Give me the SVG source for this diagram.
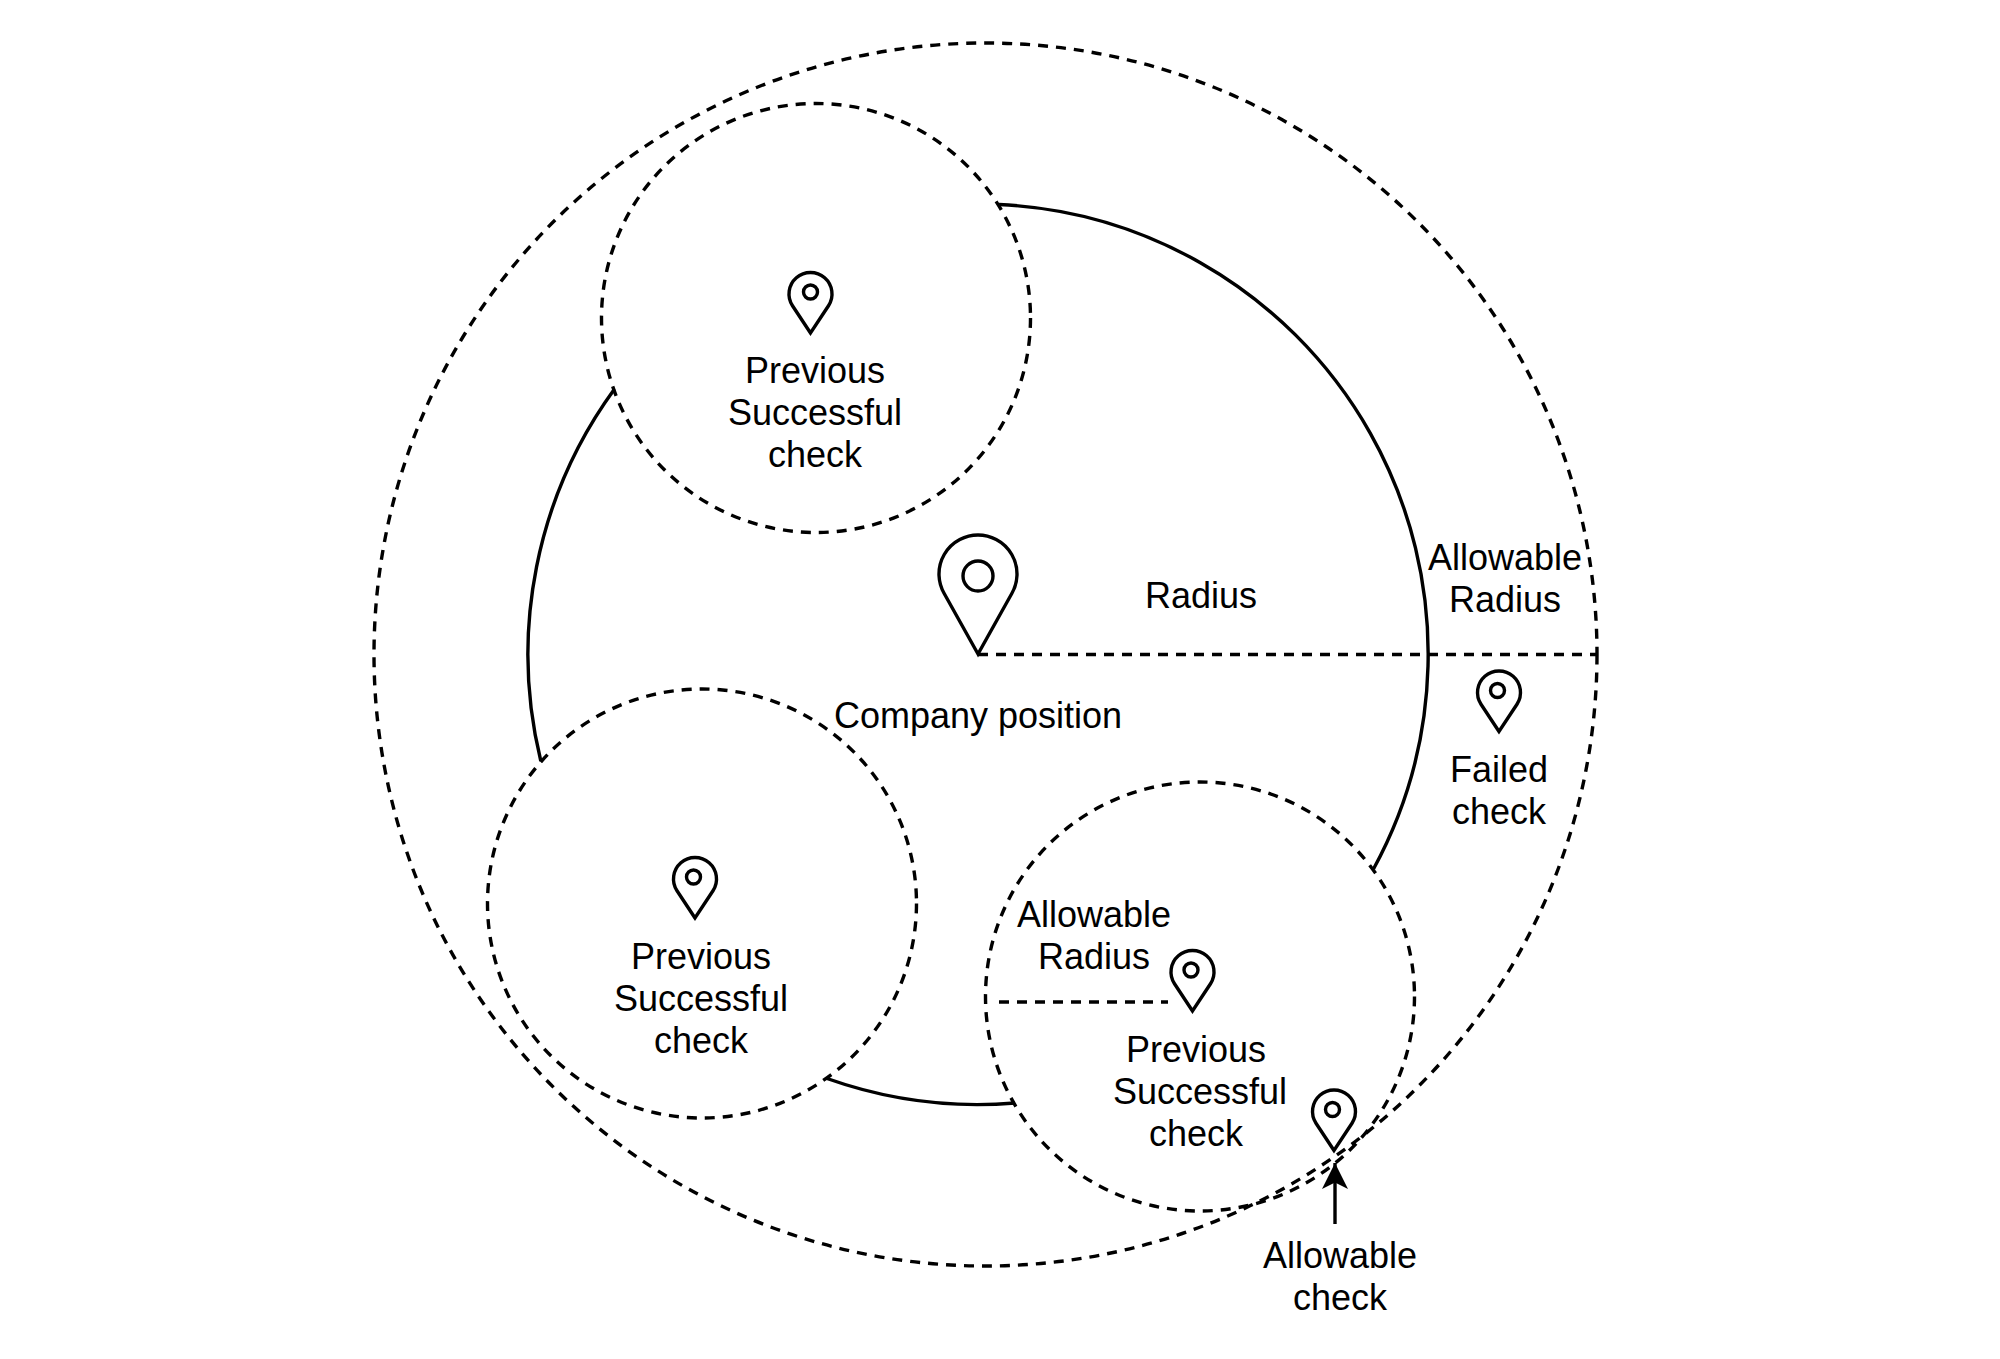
<svg xmlns="http://www.w3.org/2000/svg" width="2000" height="1359" viewBox="0 0 2000 1359">
<style>
text{font-family:"Liberation Sans",Arial,sans-serif;font-size:36px;fill:#000;text-anchor:middle}
.d{fill:none;stroke:#000;stroke-width:3.400;stroke-dasharray:10 8}
.s{fill:none;stroke:#000;stroke-width:3.400}
.p{fill:none;stroke:#000;stroke-width:3.400}
</style>
<defs>
<path id="drop" class="p" d="M0 0L-18 -27.200A21.500 21.500 0 1 1 18 -27.200Z"/>
<g id="pin"><use href="#drop"/><circle class="p" cx="-1.500" cy="-41" r="7"/></g>
<g id="pin-c"><use href="#drop"/><circle class="p" cx="0" cy="-41" r="7"/></g>
<marker id="ah" markerUnits="userSpaceOnUse" markerWidth="30" markerHeight="30" refX="26" refY="13" orient="auto"><path d="M0 0L26 13L0 26L6.500 13Z" fill="#000"/></marker>
</defs>
<rect width="2000" height="1359" fill="#fff"/>
<g id="connectors">
<path class="s" d="M999 204.500A450 450 0 0 1 1373.500 869"/>
<path class="s" d="M1015 1103A450 450 0 0 1 827 1078.500"/>
<path class="s" d="M540.800 761A450 450 0 0 1 614.500 389"/>
<path class="d" d="M978 654.500H1597"/>
<path class="d" d="M999 1002H1168"/>
<path class="s" d="M1335 1224V1163" marker-end="url(#ah)"/>
</g>
<g id="allowable-zone"><circle class="d" cx="985.500" cy="654.500" r="611.500"/></g>
<g id="check-top"><circle class="d" cx="816" cy="318" r="214.500"/><use href="#pin-c" x="810.500" y="333"/><text x="815" y="383">Previous</text><text x="815" y="425">Successful</text><text x="815" y="467">check</text></g>
<g id="check-left"><circle class="d" cx="702" cy="903.500" r="214.500"/><use href="#pin" x="695" y="918"/><text x="701" y="968.500">Previous</text><text x="701" y="1010.500">Successful</text><text x="701" y="1052.500">check</text></g>
<g id="check-right"><circle class="d" cx="1200" cy="996.500" r="214.500"/><use href="#pin" x="1192.500" y="1011"/><text x="1196" y="1061.500">Previous</text><text x="1200" y="1103.500">Successful</text><text x="1196" y="1145.500">check</text><text x="1094" y="926.500">Allowable</text><text x="1094" y="968.500">Radius</text></g>
<g id="company"><path class="p" d="M978 654L944.200 593.500A39 39 0 1 1 1011.800 593.500Z"/><circle class="p" cx="978" cy="576" r="15"/><text x="978" y="727.500">Company position</text><text x="1201" y="607.500">Radius</text></g>
<g id="allowable-radius"><text x="1505" y="569.500">Allowable</text><text x="1505" y="611.500">Radius</text></g>
<g id="failed"><use href="#pin" x="1499" y="731.500"/><text x="1499" y="781.500">Failed</text><text x="1499" y="823.500">check</text></g>
<g id="allowable-check"><use href="#pin" x="1334" y="1150.500"/><text x="1340" y="1267.500">Allowable</text><text x="1340" y="1309.500">check</text></g>
</svg>
